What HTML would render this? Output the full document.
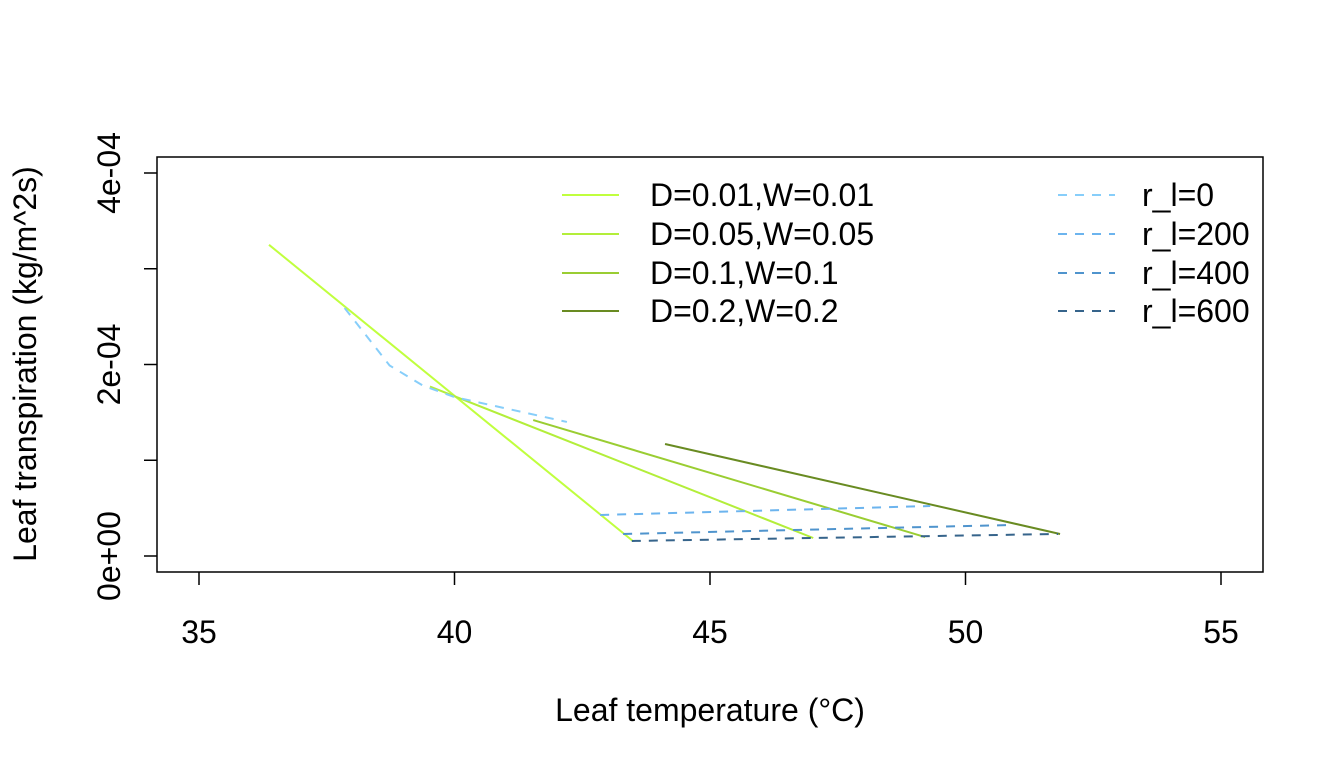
<!DOCTYPE html>
<html><head><meta charset="utf-8"><style>
html,body{margin:0;padding:0;background:#fff;}
svg{display:block;font-family:"Liberation Sans",Arial,sans-serif;}
</style></head><body>
<svg id="chart" width="1344" height="768" viewBox="0 0 1344 768">
<rect x="157" y="157" width="1106" height="415" fill="none" stroke="#000" stroke-width="1.5"/>
<g id="axes"></g>
<g id="series"></g>
<g id="legend"></g>
<text x="710" y="721" font-size="32" text-anchor="middle">Leaf temperature (°C)</text>
<text transform="translate(36,364) rotate(-90)" font-size="32" text-anchor="middle">Leaf transpiration (kg/m^2s)</text>
</svg>
<script>
const xTicks=[35,40,45,50,55];
const yTicks=[0,1,2,3,4];
const yTickLabels={0:"0e+00",2:"2e-04",4:"4e-04"};
const seriesNames=["D=0.01,W=0.01","D=0.05,W=0.05","D=0.1,W=0.1","D=0.2,W=0.2","r_l=0","r_l=200","r_l=400","r_l=600"];
const seriesColors=["#C0FF3E","#B3EE3A","#9ACD32","#698B22","#87CEFA","#6CB4EE","#4F94CD","#36648B"];
const seriesDashed=[false,false,false,false,true,true,true,true];
// x: temperature (°C), y: transpiration in units of 1e-4
const sD01x=[36.37,43.49], sD01y=[3.25,0.157];
const sD05x=[39.52,47.02], sD05y=[1.77,0.188];
const sD10x=[41.54,49.21], sD10y=[1.42,0.198];
const sD20x=[44.12,51.85], sD20y=[1.17,0.230];
const sR0x=[37.85,38.73,39.38,40.0,42.2], sR0y=[2.59,1.99,1.78,1.66,1.40];
const sR200x=[42.85,49.31], sR200y=[0.428,0.522];
const sR400x=[43.30,50.91], sR400y=[0.230,0.324];
const sR600x=[43.47,51.81], sR600y=[0.157,0.230];
const allX=[sD01x,sD05x,sD10x,sD20x,sR0x,sR200x,sR400x,sR600x];
const allY=[sD01y,sD05y,sD10y,sD20y,sR0y,sR200y,sR400y,sR600y];

const NS="http://www.w3.org/2000/svg";
function xs(v){return 199+(v-35)*51.1;}
function ys(v){return 556-v*95.75;}
function mk(tag,attrs,parent){const e=document.createElementNS(NS,tag);for(const k in attrs)e.setAttribute(k,attrs[k]);parent.appendChild(e);return e;}
const axes=document.getElementById('axes');
xTicks.forEach(t=>{
  const l=mk('line',{x1:xs(t),x2:xs(t),y1:572,y2:585,stroke:'#000','stroke-width':1.5},axes);
  
  
  const tx=mk('text',{x:xs(t),y:643,'font-size':32,'text-anchor':'middle'},axes);
  tx.textContent=t;
  
  
});
yTicks.forEach(t=>{
  const l=mk('line',{x1:144,x2:157,y1:ys(t),y2:ys(t),stroke:'#000','stroke-width':1.5},axes);
  
  
  if(yTickLabels[t]){
    const tx=mk('text',{transform:`translate(120,${ys(t)}) rotate(-90)`,'font-size':32,'text-anchor':'middle'},axes);
    tx.textContent=yTickLabels[t];
    
    
  }
});
const sg=document.getElementById('series');
allX.forEach((xa,i)=>{
  const pts=xa.map((x,j)=>xs(x)+','+ys(allY[i][j])).join(' ');
  const p=mk('polyline',{points:pts,fill:'none',stroke:seriesColors[i],'stroke-width':2},sg);
  if(seriesDashed[i])p.setAttribute('stroke-dasharray','9,8');
  
  
});
const lg=document.getElementById('legend');
const rowsY=[195,234,273,311];
seriesNames.forEach((n,i)=>{
  const col=i<4?0:1, r=i%4;
  const lx=col?1058:562, tx=col?1142:650;
  const l=mk('line',{x1:lx,x2:lx+57,y1:rowsY[r],y2:rowsY[r],stroke:seriesColors[i],'stroke-width':2},lg);
  if(seriesDashed[i])l.setAttribute('stroke-dasharray','9,8');
  
  
  const t=mk('text',{x:tx,y:rowsY[r]+11,'font-size':32},lg);
  t.textContent=n;
  
  
});
</script>
</body></html>
